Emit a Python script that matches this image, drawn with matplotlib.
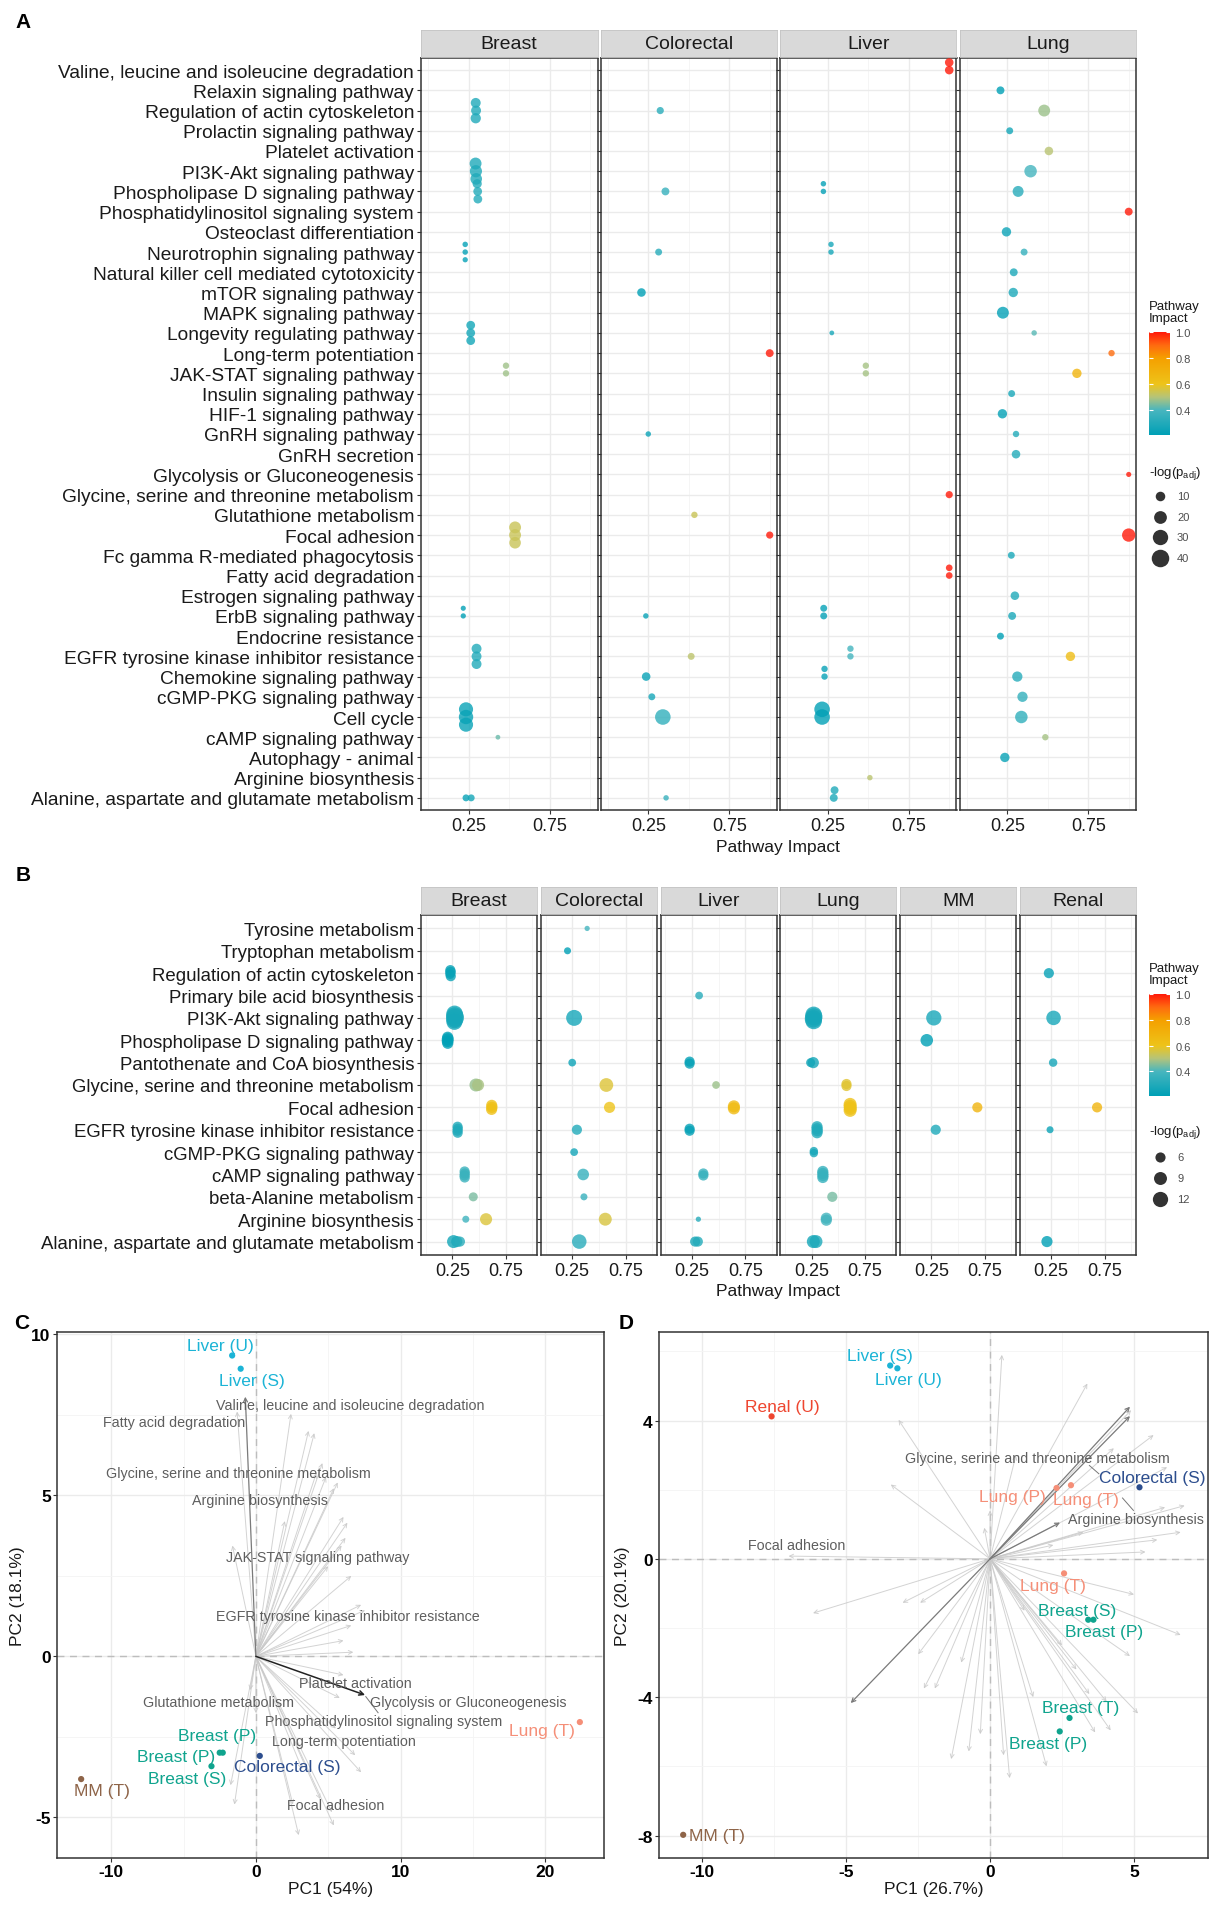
import matplotlib
matplotlib.use("Agg")
import matplotlib.pyplot as plt
import numpy as np
from matplotlib.colors import LinearSegmentedColormap, Normalize

plt.rcParams['font.family'] = ['Liberation Sans', 'DejaVu Sans']
plt.rcParams['axes.unicode_minus'] = False

W, H = 1224, 1906

# ---------------- panel A data ----------------
a_pathways = [
    "Valine, leucine and isoleucine degradation", "Relaxin signaling pathway",
    "Regulation of actin cytoskeleton", "Prolactin signaling pathway",
    "Platelet activation", "PI3K-Akt signaling pathway",
    "Phospholipase D signaling pathway", "Phosphatidylinositol signaling system",
    "Osteoclast differentiation", "Neurotrophin signaling pathway",
    "Natural killer cell mediated cytotoxicity", "mTOR signaling pathway",
    "MAPK signaling pathway", "Longevity regulating pathway",
    "Long-term potentiation", "JAK-STAT signaling pathway",
    "Insulin signaling pathway", "HIF-1 signaling pathway",
    "GnRH signaling pathway", "GnRH secretion",
    "Glycolysis or Gluconeogenesis", "Glycine, serine and threonine metabolism",
    "Glutathione metabolism", "Focal adhesion",
    "Fc gamma R-mediated phagocytosis", "Fatty acid degradation",
    "Estrogen signaling pathway", "ErbB signaling pathway",
    "Endocrine resistance", "EGFR tyrosine kinase inhibitor resistance",
    "Chemokine signaling pathway", "cGMP-PKG signaling pathway",
    "Cell cycle", "cAMP signaling pathway", "Autophagy - animal",
    "Arginine biosynthesis", "Alanine, aspartate and glutamate metabolism",
]
a_facets = ["Breast", "Colorectal", "Liver", "Lung"]
a_nslots = {"Breast": 3, "Colorectal": 1, "Liver": 3, "Lung": 1}

# (pathway, pathway impact, -log(padj), dataset slot)
a_breast = [
    ("Regulation of actin cytoskeleton", 0.293, 11, 0),
    ("Regulation of actin cytoskeleton", 0.295, 11, 1),
    ("Regulation of actin cytoskeleton", 0.293, 12, 2),
    ("PI3K-Akt signaling pathway", 0.292, 17, 0),
    ("PI3K-Akt signaling pathway", 0.294, 18, 1),
    ("PI3K-Akt signaling pathway", 0.296, 16, 2),
    ("Phospholipase D signaling pathway", 0.302, 9, 0),
    ("Phospholipase D signaling pathway", 0.305, 8, 1),
    ("Phospholipase D signaling pathway", 0.306, 8, 2),
    ("Neurotrophin signaling pathway", 0.228, 1.5, 0),
    ("Neurotrophin signaling pathway", 0.228, 1.5, 1),
    ("Neurotrophin signaling pathway", 0.228, 1.2, 2),
    ("Longevity regulating pathway", 0.262, 8, 0),
    ("Longevity regulating pathway", 0.262, 8, 1),
    ("Longevity regulating pathway", 0.262, 8, 2),
    ("JAK-STAT signaling pathway", 0.48, 3, 0),
    ("JAK-STAT signaling pathway", 0.48, 3, 1),
    ("Focal adhesion", 0.536, 17, 0),
    ("Focal adhesion", 0.536, 17, 1),
    ("Focal adhesion", 0.536, 16, 2),
    ("ErbB signaling pathway", 0.216, 1, 0),
    ("ErbB signaling pathway", 0.216, 1.2, 1),
    ("EGFR tyrosine kinase inhibitor resistance", 0.298, 11, 0),
    ("EGFR tyrosine kinase inhibitor resistance", 0.298, 11, 1),
    ("EGFR tyrosine kinase inhibitor resistance", 0.298, 11, 2),
    ("Cell cycle", 0.233, 25, 0),
    ("Cell cycle", 0.233, 26, 1),
    ("Cell cycle", 0.233, 25, 2),
    ("cAMP signaling pathway", 0.43, 0.5, 1),
    ("Alanine, aspartate and glutamate metabolism", 0.233, 4, 1),
    ("Alanine, aspartate and glutamate metabolism", 0.265, 4, 1),
]
a_colorectal = [
    ("Regulation of actin cytoskeleton", 0.324, 4.5, 0),
    ("Phospholipase D signaling pathway", 0.356, 6, 0),
    ("Neurotrophin signaling pathway", 0.314, 4, 0),
    ("mTOR signaling pathway", 0.208, 7.5, 0),
    ("Long-term potentiation", 1.0, 6, 0),
    ("GnRH signaling pathway", 0.25, 1.5, 0),
    ("Glutathione metabolism", 0.535, 3, 0),
    ("Focal adhesion", 1.0, 4.5, 0),
    ("ErbB signaling pathway", 0.235, 1.5, 0),
    ("EGFR tyrosine kinase inhibitor resistance", 0.515, 4, 0),
    ("Chemokine signaling pathway", 0.237, 7.5, 0),
    ("cGMP-PKG signaling pathway", 0.272, 4, 0),
    ("Cell cycle", 0.34, 31, 0),
    ("Alanine, aspartate and glutamate metabolism", 0.36, 1.5, 0),
]
a_liver = [
    ("Valine, leucine and isoleucine degradation", 1.0, 7.5, 0),
    ("Valine, leucine and isoleucine degradation", 1.0, 7.5, 1),
    ("Phospholipase D signaling pathway", 0.223, 1.5, 0),
    ("Phospholipase D signaling pathway", 0.223, 1.5, 1),
    ("Neurotrophin signaling pathway", 0.27, 1.5, 0),
    ("Neurotrophin signaling pathway", 0.27, 1.5, 1),
    ("Longevity regulating pathway", 0.275, 0.5, 1),
    ("JAK-STAT signaling pathway", 0.485, 3, 0),
    ("JAK-STAT signaling pathway", 0.485, 3, 1),
    ("Glycine, serine and threonine metabolism", 1.0, 4.5, 1),
    ("Fatty acid degradation", 1.0, 3.5, 0),
    ("Fatty acid degradation", 1.0, 3.5, 1),
    ("ErbB signaling pathway", 0.225, 4, 0),
    ("ErbB signaling pathway", 0.225, 4, 1),
    ("EGFR tyrosine kinase inhibitor resistance", 0.39, 3, 0),
    ("EGFR tyrosine kinase inhibitor resistance", 0.39, 3, 1),
    ("Chemokine signaling pathway", 0.23, 3, 0),
    ("Chemokine signaling pathway", 0.23, 3, 1),
    ("Cell cycle", 0.215, 31, 0),
    ("Cell cycle", 0.215, 31, 1),
    ("Arginine biosynthesis", 0.51, 1.5, 1),
    ("Alanine, aspartate and glutamate metabolism", 0.292, 6, 0),
    ("Alanine, aspartate and glutamate metabolism", 0.287, 6, 1),
]
a_lung = [
    ("Relaxin signaling pathway", 0.208, 6, 0),
    ("Regulation of actin cytoskeleton", 0.478, 17, 0),
    ("Prolactin signaling pathway", 0.265, 4, 0),
    ("Platelet activation", 0.507, 7.5, 0),
    ("PI3K-Akt signaling pathway", 0.394, 19, 0),
    ("Phospholipase D signaling pathway", 0.317, 14, 0),
    ("Phosphatidylinositol signaling system", 1.0, 6, 0),
    ("Osteoclast differentiation", 0.245, 9.5, 0),
    ("Neurotrophin signaling pathway", 0.354, 4, 0),
    ("Natural killer cell mediated cytotoxicity", 0.29, 6, 0),
    ("mTOR signaling pathway", 0.287, 9.5, 0),
    ("MAPK signaling pathway", 0.223, 17, 0),
    ("Longevity regulating pathway", 0.416, 1.5, 0),
    ("Long-term potentiation", 0.894, 3, 0),
    ("JAK-STAT signaling pathway", 0.68, 9.5, 0),
    ("Insulin signaling pathway", 0.277, 4, 0),
    ("HIF-1 signaling pathway", 0.22, 9.5, 0),
    ("GnRH signaling pathway", 0.304, 3, 0),
    ("GnRH secretion", 0.304, 7.5, 0),
    ("Glycolysis or Gluconeogenesis", 1.0, 1, 0),
    ("Focal adhesion", 1.0, 22, 0),
    ("Fc gamma R-mediated phagocytosis", 0.275, 4, 0),
    ("Estrogen signaling pathway", 0.297, 7.5, 0),
    ("ErbB signaling pathway", 0.28, 6, 0),
    ("Endocrine resistance", 0.208, 4, 0),
    ("EGFR tyrosine kinase inhibitor resistance", 0.64, 9.5, 0),
    ("Chemokine signaling pathway", 0.312, 12, 0),
    ("cGMP-PKG signaling pathway", 0.344, 12, 0),
    ("Cell cycle", 0.337, 19, 0),
    ("cAMP signaling pathway", 0.485, 3, 0),
    ("Autophagy - animal", 0.235, 9.5, 0),
]
a_data = {"Breast": a_breast, "Colorectal": a_colorectal, "Liver": a_liver, "Lung": a_lung}

# ---------------- panel B data ----------------
b_pathways = [
    "Tyrosine metabolism", "Tryptophan metabolism", "Regulation of actin cytoskeleton",
    "Primary bile acid biosynthesis", "PI3K-Akt signaling pathway",
    "Phospholipase D signaling pathway", "Pantothenate and CoA biosynthesis",
    "Glycine, serine and threonine metabolism", "Focal adhesion",
    "EGFR tyrosine kinase inhibitor resistance", "cGMP-PKG signaling pathway",
    "cAMP signaling pathway", "beta-Alanine metabolism", "Arginine biosynthesis",
    "Alanine, aspartate and glutamate metabolism",
]
b_facets = ["Breast", "Colorectal", "Liver", "Lung", "MM", "Renal"]
b_nslots = {"Breast": 5, "Colorectal": 1, "Liver": 2, "Lung": 4, "MM": 1, "Renal": 1}

b_breast = [
    ("Regulation of actin cytoskeleton", 0.230, 6, 0.5),
    ("Regulation of actin cytoskeleton", 0.232, 6.5, 1.5),
    ("Regulation of actin cytoskeleton", 0.228, 5.5, 2.5),
    ("Regulation of actin cytoskeleton", 0.234, 6, 3.5),
    ("PI3K-Akt signaling pathway", 0.270, 14, 0),
    ("PI3K-Akt signaling pathway", 0.272, 15, 1),
    ("PI3K-Akt signaling pathway", 0.274, 16, 2),
    ("PI3K-Akt signaling pathway", 0.270, 14, 3),
    ("PI3K-Akt signaling pathway", 0.268, 13, 4),
    ("Phospholipase D signaling pathway", 0.205, 7, 0.5),
    ("Phospholipase D signaling pathway", 0.206, 8, 1.5),
    ("Phospholipase D signaling pathway", 0.204, 7.5, 2.5),
    ("Phospholipase D signaling pathway", 0.206, 7, 3.5),
    ("Glycine, serine and threonine metabolism", 0.47, 9, 2),
    ("Glycine, serine and threonine metabolism", 0.49, 8, 2),
    ("Focal adhesion", 0.618, 7, 1),
    ("Focal adhesion", 0.620, 7, 2),
    ("Focal adhesion", 0.617, 7, 3),
    ("EGFR tyrosine kinase inhibitor resistance", 0.298, 6, 0.5),
    ("EGFR tyrosine kinase inhibitor resistance", 0.300, 6, 1.5),
    ("EGFR tyrosine kinase inhibitor resistance", 0.297, 6, 2.5),
    ("EGFR tyrosine kinase inhibitor resistance", 0.299, 6, 3.5),
    ("cAMP signaling pathway", 0.364, 6, 0.5),
    ("cAMP signaling pathway", 0.366, 6, 1.5),
    ("cAMP signaling pathway", 0.363, 6, 2.5),
    ("cAMP signaling pathway", 0.365, 6, 3.5),
    ("beta-Alanine metabolism", 0.445, 5, 2),
    ("Arginine biosynthesis", 0.375, 3.5, 2),
    ("Arginine biosynthesis", 0.565, 8, 2),
    ("Alanine, aspartate and glutamate metabolism", 0.26, 9, 2),
    ("Alanine, aspartate and glutamate metabolism", 0.29, 7, 2),
    ("Alanine, aspartate and glutamate metabolism", 0.32, 6, 2),
]
b_colorectal = [
    ("Tyrosine metabolism", 0.39, 2.5, 0),
    ("Tryptophan metabolism", 0.206, 3.5, 0),
    ("PI3K-Akt signaling pathway", 0.268, 13, 0),
    ("Pantothenate and CoA biosynthesis", 0.25, 4, 0),
    ("Glycine, serine and threonine metabolism", 0.57, 10, 0),
    ("Focal adhesion", 0.60, 7, 0),
    ("EGFR tyrosine kinase inhibitor resistance", 0.294, 6, 0),
    ("cGMP-PKG signaling pathway", 0.268, 4, 0),
    ("cAMP signaling pathway", 0.353, 7.5, 0),
    ("beta-Alanine metabolism", 0.36, 3.5, 0),
    ("Arginine biosynthesis", 0.56, 9, 0),
    ("Alanine, aspartate and glutamate metabolism", 0.316, 11, 0),
]
b_liver = [
    ("Primary bile acid biosynthesis", 0.317, 4, 0.5),
    ("Pantothenate and CoA biosynthesis", 0.228, 6, 0),
    ("Pantothenate and CoA biosynthesis", 0.228, 6, 1),
    ("Glycine, serine and threonine metabolism", 0.476, 4, 0.5),
    ("Focal adhesion", 0.643, 8, 0),
    ("Focal adhesion", 0.643, 8, 1),
    ("EGFR tyrosine kinase inhibitor resistance", 0.228, 6, 0),
    ("EGFR tyrosine kinase inhibitor resistance", 0.228, 6, 1),
    ("cAMP signaling pathway", 0.357, 6, 0),
    ("cAMP signaling pathway", 0.357, 6, 1),
    ("Arginine biosynthesis", 0.31, 2.5, 0.5),
    ("Alanine, aspartate and glutamate metabolism", 0.28, 6, 0.5),
    ("Alanine, aspartate and glutamate metabolism", 0.305, 6, 0.5),
]
b_lung = [
    ("PI3K-Akt signaling pathway", 0.268, 14, 0),
    ("PI3K-Akt signaling pathway", 0.270, 15, 1),
    ("PI3K-Akt signaling pathway", 0.266, 15, 2),
    ("PI3K-Akt signaling pathway", 0.268, 14, 3),
    ("Pantothenate and CoA biosynthesis", 0.24, 5, 1.5),
    ("Pantothenate and CoA biosynthesis", 0.265, 7, 1.5),
    ("Glycine, serine and threonine metabolism", 0.576, 6, 1),
    ("Glycine, serine and threonine metabolism", 0.576, 6, 2),
    ("Focal adhesion", 0.61, 9, 0),
    ("Focal adhesion", 0.61, 9, 1),
    ("Focal adhesion", 0.612, 9, 2),
    ("Focal adhesion", 0.61, 9, 3),
    ("EGFR tyrosine kinase inhibitor resistance", 0.30, 7, 0),
    ("EGFR tyrosine kinase inhibitor resistance", 0.30, 7, 1),
    ("EGFR tyrosine kinase inhibitor resistance", 0.302, 7, 2),
    ("EGFR tyrosine kinase inhibitor resistance", 0.30, 7, 3),
    ("cGMP-PKG signaling pathway", 0.27, 4.5, 1),
    ("cGMP-PKG signaling pathway", 0.27, 4.5, 2),
    ("cAMP signaling pathway", 0.354, 7, 0),
    ("cAMP signaling pathway", 0.354, 7, 1),
    ("cAMP signaling pathway", 0.356, 7, 2),
    ("cAMP signaling pathway", 0.354, 7, 3),
    ("beta-Alanine metabolism", 0.443, 6, 1.5),
    ("Arginine biosynthesis", 0.387, 7, 1),
    ("Arginine biosynthesis", 0.387, 7, 2),
    ("Alanine, aspartate and glutamate metabolism", 0.265, 9, 1.5),
    ("Alanine, aspartate and glutamate metabolism", 0.29, 9, 1.5),
]
b_mm = [
    ("PI3K-Akt signaling pathway", 0.272, 12, 0),
    ("Phospholipase D signaling pathway", 0.206, 8.5, 0),
    ("Focal adhesion", 0.68, 6, 0),
    ("EGFR tyrosine kinase inhibitor resistance", 0.29, 6, 0),
]
b_renal = [
    ("Regulation of actin cytoskeleton", 0.228, 6, 0),
    ("PI3K-Akt signaling pathway", 0.272, 11, 0),
    ("Pantothenate and CoA biosynthesis", 0.268, 4.5, 0),
    ("Focal adhesion", 0.68, 6, 0),
    ("EGFR tyrosine kinase inhibitor resistance", 0.239, 3.5, 0),
    ("Alanine, aspartate and glutamate metabolism", 0.21, 7, 0),
]
b_data = {"Breast": b_breast, "Colorectal": b_colorectal, "Liver": b_liver,
          "Lung": b_lung, "MM": b_mm, "Renal": b_renal}

# ---------------- panel C data (PCA, 54% / 18.1%) ----------------
c_samples = ["Liver (U)", "Liver (S)", "Lung (T)", "Breast (P)", "Breast (P)",
             "Breast (S)", "Colorectal (S)", "MM (T)"]
c_pc1 = [-1.64, -1.05, 22.4, -2.5, -2.29, -3.07, 0.27, -12.08]
c_pc2 = [9.34, 8.93, -2.04, -2.99, -2.99, -3.41, -3.09, -3.81]
c_vars = ["Valine, leucine and isoleucine degradation", "Fatty acid degradation",
          "Glycine, serine and threonine metabolism", "Arginine biosynthesis",
          "JAK-STAT signaling pathway", "EGFR tyrosine kinase inhibitor resistance",
          "Platelet activation", "Glycolysis or Gluconeogenesis", "Glutathione metabolism",
          "Phosphatidylinositol signaling system", "Long-term potentiation", "Focal adhesion"]
c_var_x = [6.55, -5.63, -1.24, 0.3, 4.26, 6.36, 6.9, 14.66, -2.59, 8.84, 6.09, 5.53]
c_var_y = [7.79, 7.27, 5.69, 4.85, 3.08, 1.24, -0.83, -1.42, -1.42, -2.01, -2.63, -4.63]
c_load_x = [2.43, 3.64, 4.04, -1.3, 4.18, 4.85, 5.39, 5.66, 6.06, 6.33, 6.2, 5.93, -1.62,
            6.6, 7.28, 7.55, 6.6, 6.06, 6.74, 6.06, 5.8, 5.53, 6.87, 7.28, 5.39, 5.26,
            2.96, -1.48, -1.75, 0.0, -0.4, 2.56, 4.45, 5.0, 4.6, 3.2, 2.0]
c_load_y = [7.53, 7.0, 6.93, 7.6, 5.69, 5.57, 5.22, 5.4, 4.33, 4.15, 3.68, 3.44, 3.44,
            2.5, 1.6, 1.43, 0.96, 0.49, 0.13, -0.58, -1.29, -2.24, -3.07, -3.6, -5.25, -4.84,
            -5.55, -4.6, -4.0, -1.76, -1.05, -4.6, -4.43, 2.8, 6.0, -3.5, 4.2]
c_dark_x = [-0.73]
c_dark_y = [8.06]
c_black_x = [7.55]
c_black_y = [-1.2]

# ---------------- panel D data (PCA, 26.7% / 20.1%) ----------------
d_samples = ["Liver (S)", "Liver (U)", "Renal (U)", "Colorectal (S)", "Lung (P)", "Lung (T)",
             "Lung (T)", "Breast (S)", "Breast (P)", "Breast (T)", "Breast (P)", "MM (T)"]
d_pc1 = [-3.47, -3.22, -7.59, 5.19, 2.31, 2.81, 2.57, 3.41, 3.59, 2.76, 2.42, -10.66]
d_pc2 = [5.59, 5.51, 4.12, 2.07, 2.05, 2.13, -0.42, -1.76, -1.76, -4.6, -4.99, -7.98]
d_vars = ["Glycine, serine and threonine metabolism", "Arginine biosynthesis", "Focal adhesion"]
d_var_x = [1.66, 5.05, -6.7]
d_var_y = [2.91, 1.14, 0.39]
d_load_x = [0.41, 3.38, 4.9, 5.68, 6.15, -3.18, -3.45, 6.76, 6.08, 6.62, 5.81, 3.24,
            -7.0, -6.15, -3.04, -2.43, -2.5, -2.3, -1.92, -1.35, -0.74, -0.34, 0.47, 0.68,
            1.96, 3.65, 4.19, 5.14, 4.86, 6.62, 5.0, 4.05, 3.45, 0.0, -0.2, 1.2, 2.5, 3.0,
            1.5, -1.0, 4.3, 5.4, 2.2, 0.9]
d_load_y = [5.9, 5.07, 4.3, 3.58, 2.65, 4.02, 2.15, 1.54, 1.49, 0.77, 0.55, 0.77,
            0.08, -1.57, -1.27, -1.27, -2.76, -3.75, -3.75, -5.79, -5.57, -5.07, -5.68, -6.34,
            -6.0, -5.02, -4.96, -4.47, -2.81, -2.2, -1.03, -4.13, -3.91, 1.4, 0.9, -1.5, -2.5,
            -3.2, -4.0, -3.0, 3.2, 0.2, 0.4, 3.0]
d_dark_x = [-4.84, 4.86, 4.86, 2.43]
d_dark_y = [-4.17, 4.4, 4.13, 1.05]

tissue_colors = {"Liver": "#1CB4D6", "Breast": "#10A48E", "Colorectal": "#2D4E8E",
                 "Lung": "#F58F78", "MM": "#8E6448", "Renal": "#EE4630"}

# ---------------- styling helpers ----------------
imp_min, imp_max = 0.21, 1.0
cmap = LinearSegmentedColormap.from_list("impact", [
    (0.0, "#00A0B6"), ((0.40 - imp_min) / (imp_max - imp_min), "#48B6BF"),
    ((0.50 - imp_min) / (imp_max - imp_min), "#B5C47A"),
    ((0.60 - imp_min) / (imp_max - imp_min), "#EEC41A"),
    ((0.80 - imp_min) / (imp_max - imp_min), "#F5A000"),
    ((0.90 - imp_min) / (imp_max - imp_min), "#FF6A10"), (1.0, "#FF1A0A")])
norm = Normalize(imp_min, imp_max)


def rect(x0, y0, x1, y1):
    return [x0 / W, 1 - y1 / H, (x1 - x0) / W, (y1 - y0) / H]


def area_a(v):
    # radius^2 in pixels -> marker area in pt^2 (dpi 100)
    return 1.2 * 2.0736 * (1.5 * v + 4.0)


def area_b(v):
    return 1.2 * 2.0736 * max(4.5 * v - 5.5, 4.0)


fig = plt.figure(figsize=(W / 100, H / 100), dpi=100)
ov = fig.add_axes([0, 0, 1, 1], zorder=10)
ov.set_xlim(0, W)
ov.set_ylim(H, 0)
ov.axis("off")


def facet_panel(facets, data, nslots, pathways, x0, x1, gap, ys0, yp0, yp1, step, area_fn,
                ylab_size):
    n = len(facets)
    fw = (x1 - x0 - gap * (n - 1)) / n
    nrow = len(pathways)
    for i, name in enumerate(facets):
        left = x0 + i * (fw + gap)
        ax = fig.add_axes(rect(left, yp0, left + fw, yp1))
        sax = fig.add_axes(rect(left, ys0, left + fw, yp0 - 1))
        sax.set_facecolor("#D9D9D9")
        sax.set_xticks([])
        sax.set_yticks([])
        for sp in sax.spines.values():
            sp.set_color("#C4C4C4")
            sp.set_linewidth(0.6)
        sax.text(0.5, 0.5, name, ha="center", va="center", fontsize=14,
                 color="#1A1A1A", transform=sax.transAxes)

        pts = data[name]
        xs = [p[1] for p in pts]
        ys = [pathways.index(p[0]) + (p[3] - (nslots[name] - 1) / 2) * step for p in pts]
        ss = [area_fn(p[2]) for p in pts]
        ax.scatter(xs, ys, s=ss, c=xs, cmap=cmap, norm=norm, alpha=0.8,
                   linewidths=0, zorder=3)

        ax.set_xlim(-0.045, 1.045)
        ax.set_ylim(nrow - 1 + 0.6, -0.6)
        ax.set_xticks([0.25, 0.75])
        ax.set_xticklabels(["0.25", "0.75"])
        ax.set_xticks([0.0, 0.5, 1.0], minor=True)
        ax.set_yticks(range(nrow))
        if i == 0:
            ax.set_yticklabels(pathways, fontsize=ylab_size, color="#1A1A1A")
        else:
            ax.set_yticklabels([])
            ax.tick_params(axis="y", length=0)
        ax.tick_params(axis="both", which="major", length=3, width=0.8, color="#333333",
                       labelcolor="#1A1A1A", pad=2)
        ax.tick_params(axis="x", which="major", labelsize=13)
        ax.tick_params(axis="x", which="minor", length=0)
        ax.grid(True, which="major", color="#EBEBEB", lw=1.0, zorder=0)
        ax.grid(True, which="minor", axis="x", color="#F4F4F4", lw=0.6, zorder=0)
        ax.set_axisbelow(True)
        for sp in ax.spines.values():
            sp.set_color("#333333")
            sp.set_linewidth(1.1)


def impact_legend(x0, y_title, yb0, yb1, y_size_title, size_vals, size_ys, area_fn):
    ov.text(x0, y_title, "Pathway\nImpact", ha="left", va="center", fontsize=9.5,
            color="#1A1A1A", linespacing=1.0)
    cax = fig.add_axes(rect(x0, yb0, x0 + 21, yb1))
    grad = np.linspace(imp_min, imp_max, 256).reshape(-1, 1)
    cax.imshow(grad, aspect="auto", cmap=cmap, norm=norm, origin="lower",
               extent=[0, 1, imp_min, imp_max])
    cax.set_xlim(0, 1)
    cax.set_ylim(imp_min, imp_max)
    for t in [0.4, 0.6, 0.8, 1.0]:
        cax.hlines(t, 0, 0.2, color="white", lw=0.8)
        cax.hlines(t, 0.8, 1.0, color="white", lw=0.8)
    cax.set_xticks([])
    cax.yaxis.tick_right()
    cax.set_yticks([0.4, 0.6, 0.8, 1.0])
    cax.set_yticklabels(["0.4", "0.6", "0.8", "1.0"])
    cax.tick_params(axis="y", length=0, pad=4, labelsize=8, labelcolor="#4D4D4D")
    for sp in cax.spines.values():
        sp.set_visible(False)
    ov.text(x0, y_size_title, "-log(p$_{\\mathregular{adj}}$)", ha="left", va="center",
            fontsize=9.5, color="#1A1A1A")
    for v, yy in zip(size_vals, size_ys):
        ov.scatter([x0 + 11], [yy], s=area_fn(v), color="#333333", linewidths=0)
        ov.text(x0 + 28, yy, str(v), ha="left", va="center", fontsize=8, color="#4D4D4D")


# ---------------- panel A ----------------
facet_panel(a_facets, a_data, a_nslots, a_pathways, 421, 1136, 3, 31, 59, 811, 0.38, area_a,
            13.8)
ov.text(778, 848, "Pathway Impact", ha="center", va="center", fontsize=12.5, color="#1A1A1A")
impact_legend(1149, 313, 333, 436, 473, [10, 20, 30, 40], [497, 518, 538, 559], area_a)

# ---------------- panel B ----------------
facet_panel(b_facets, b_data, b_nslots, b_pathways, 421, 1136, 3.5, 888, 916, 1256, 0.09, area_b,
            13.4)
ov.text(778, 1292, "Pathway Impact", ha="center", va="center", fontsize=12.5, color="#1A1A1A")
impact_legend(1149, 975, 995, 1097, 1133, [6, 9, 12], [1158, 1179, 1200], area_b)


# ---------------- panels C and D ----------------
def pca_panel(box, xlim, ylim, xt, yt, xminor, yminor, xlabel, ylabel, ylab_x,
              lx, ly, dx, dy, kx, ky, names, px, py, lab_pos, vars_, vx, vy):
    ax = fig.add_axes(rect(*box))
    ax.set_xlim(*xlim)
    ax.set_ylim(*ylim)
    ax.set_xticks(xt)
    ax.set_yticks(yt)
    ax.set_xticks(xminor, minor=True)
    ax.set_yticks(yminor, minor=True)
    ax.grid(True, which="major", color="#EBEBEB", lw=1.0, zorder=0)
    ax.grid(True, which="minor", color="#F4F4F4", lw=0.6, zorder=0)
    ax.set_axisbelow(True)
    ax.tick_params(axis="both", which="major", length=3, width=0.8, color="#333333",
                   labelsize=12.5, labelcolor="black", pad=1.5)
    ax.tick_params(which="minor", length=0)
    for lab in ax.get_xticklabels() + ax.get_yticklabels():
        lab.set_fontweight("bold")
    for sp in ax.spines.values():
        sp.set_color("#333333")
        sp.set_linewidth(1.1)
    ax.axhline(0, color="#BDBDBD", lw=1.0, ls=(0, (5, 4)), zorder=1)
    ax.axvline(0, color="#BDBDBD", lw=1.0, ls=(0, (5, 4)), zorder=1)
    for x, y in zip(lx, ly):
        ax.annotate("", xy=(x, y), xytext=(0, 0), zorder=2,
                    arrowprops=dict(arrowstyle="->", color="#C8C8C8", lw=0.7, alpha=0.8,
                                    shrinkA=0, shrinkB=0, mutation_scale=7))
    for x, y in zip(dx, dy):
        ax.annotate("", xy=(x, y), xytext=(0, 0), zorder=2,
                    arrowprops=dict(arrowstyle="->", color="#7A7A7A", lw=0.9,
                                    shrinkA=0, shrinkB=0, mutation_scale=7))
    for x, y in zip(kx, ky):
        ax.annotate("", xy=(x, y), xytext=(0, 0), zorder=2,
                    arrowprops=dict(arrowstyle="->", color="#222222", lw=1.1,
                                    shrinkA=0, shrinkB=0, mutation_scale=8))
    for t, x, y in zip(vars_, vx, vy):
        ax.text(x, y, t, ha="center", va="center", fontsize=10.3, color="#5E5E5E", zorder=4)
    cols = [tissue_colors[n.split(" ")[0]] for n in names]
    ax.scatter(px, py, s=20, c=cols, linewidths=0, zorder=5)
    for n, c, (tx, ty, ha) in zip(names, cols, lab_pos):
        ax.text(tx, ty, n, ha=ha, va="center", fontsize=12.5, color=c, zorder=6)
    ov.text((box[0] + box[2]) / 2, 1890, xlabel, ha="center", va="center",
            fontsize=12.5, color="#1A1A1A")
    ov.text(ylab_x, (box[1] + box[3]) / 2, ylabel, rotation=90, ha="center", va="center",
            fontsize=12.5, color="#1A1A1A")
    return ax


c_lab_pos = [(-2.43, 9.66, "center"), (-0.27, 8.57, "center"), (19.8, -2.31, "center"),
             (-2.67, -2.45, "center"), (-5.53, -3.1, "center"), (-4.72, -3.78, "center"),
             (2.16, -3.42, "center"), (-10.65, -4.17, "center")]
axc = pca_panel((57, 1333, 604, 1859), (-13.75, 24.07), (-6.26, 10.07),
                [-10, 0, 10, 20], [-5, 0, 5, 10], [-5, 5, 15], [-2.5, 2.5, 7.5],
                "PC1 (54%)", "PC2 (18.1%)", 18, c_load_x, c_load_y, c_dark_x, c_dark_y,
                c_black_x, c_black_y, c_samples, c_pc1, c_pc2, c_lab_pos,
                c_vars, c_var_x, c_var_y)
axc.plot([7.6, 8.45], [-1.25, -1.75], color="#777777", lw=0.7, zorder=3)

d_lab_pos = [(-3.84, 5.88, "center"), (-2.84, 5.18, "center"), (-7.2, 4.41, "center"),
             (5.65, 2.36, "center"), (0.78, 1.80, "center"), (3.34, 1.71, "center"),
             (2.18, -0.77, "center"), (3.04, -1.48, "center"), (3.96, -2.11, "center"),
             (3.15, -4.31, "center"), (2.03, -5.33, "center"), (-10.45, -8.0, "left")]
axd = pca_panel((659, 1333, 1208, 1859), (-11.5, 7.57), (-8.65, 6.56),
                [-10, -5, 0, 5], [-8, -4, 0, 4], [-7.5, -2.5, 2.5], [-6, -2, 2, 6],
                "PC1 (26.7%)", "PC2 (20.1%)", 623, d_load_x, d_load_y, d_dark_x, d_dark_y,
                [], [], d_samples, d_pc1, d_pc2, d_lab_pos, d_vars, d_var_x, d_var_y)
axd.plot([3.45, 3.78], [2.70, 2.46], color="#777777", lw=0.7, zorder=3)
axd.plot([4.6, 4.98], [1.76, 1.40], color="#777777", lw=0.7, zorder=3)

# panel letters
for letter, x, y in [("A", 23, 22), ("B", 23, 876), ("C", 22, 1324), ("D", 626, 1324)]:
    ov.text(x, y, letter, ha="center", va="center", fontsize=15, fontweight="bold")

fig.savefig("out.png", dpi=100)
